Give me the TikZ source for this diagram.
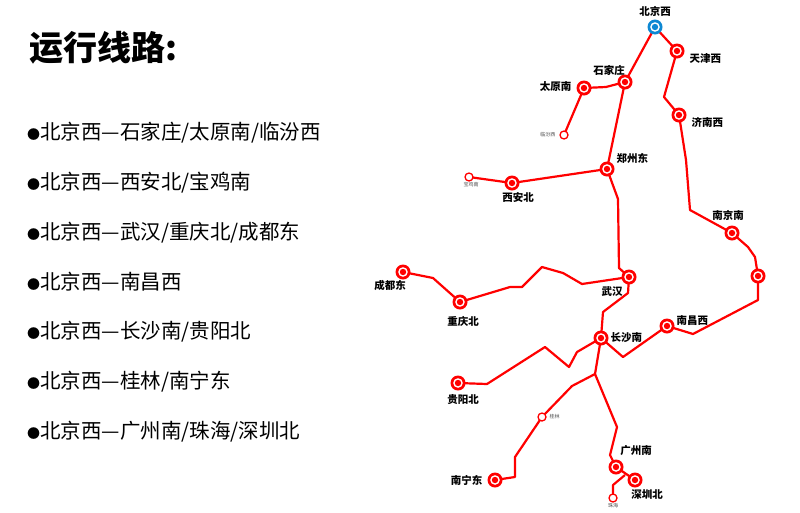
\documentclass[tikz,border=0pt]{standalone}
\usepackage{fontspec}
\setmainfont{Noto Sans CJK SC}
\begin{document}
\begin{tikzpicture}[x=1pt,y=-1pt,
  st/.style={circle,fill=red,minimum size=15pt,inner sep=0pt,path picture={\fill[white](path picture bounding box.center) circle (4.8pt);\fill[red](path picture bounding box.center) circle (3.2pt);}},
  bst/.style={st,fill=cyan!70!blue,path picture={\fill[white](path picture bounding box.center) circle (4.8pt);\fill[cyan!70!blue](path picture bounding box.center) circle (3.2pt);}},
  ost/.style={circle,draw=red,line width=1.3pt,fill=white,minimum size=8pt,inner sep=0pt},
  lb/.style={font=\bfseries\fontsize{10.5}{10.5}\selectfont},
  sl/.style={font=\fontsize{5}{5}\selectfont,text=black!70},
  ln/.style={red,line width=2.2pt,line join=round},
  it/.style={anchor=west,inner sep=0pt,font=\fontsize{20.5}{20.5}\selectfont}]
\useasboundingbox (0,0) rectangle (800,512);
\node[anchor=west,font=\bfseries\fontsize{34}{34}\selectfont] (title) at (26,48) {运行线路:};
\newcommand\bul{{\fontsize{13}{13}\selectfont●}}
\node[it] (item1) at (27,133) {\bul 北京西—石家庄/太原南/临汾西};
\node[it] (item2) at (27,183) {\bul 北京西—西安北/宝鸡南};
\node[it] (item3) at (27,233) {\bul 北京西—武汉/重庆北/成都东};
\node[it] (item4) at (27,282) {\bul 北京西—南昌西};
\node[it] (item5) at (27,332) {\bul 北京西—长沙南/贵阳北};
\node[it] (item6) at (27,382) {\bul 北京西—桂林/南宁东};
\node[it] (item7) at (27,432) {\bul 北京西—广州南/珠海/深圳北};
% lines
\coordinate (a1) at (606,87);
\coordinate (b1) at (618,199); \coordinate (b2) at (619,268);
\coordinate (c1) at (664,97);
\coordinate (d1) at (686,160); \coordinate (d2) at (690,210);
\coordinate (e1) at (748,247); \coordinate (e2) at (755,257);
\coordinate (f1) at (758,300); \coordinate (f2) at (693,334);
\coordinate (g1) at (623,357);
\coordinate (h1) at (628,293); \coordinate (h2) at (603,312);
\coordinate (i1) at (433,278);
\coordinate (j1) at (510,287); \coordinate (j2) at (522,287); \coordinate (j3) at (542,267); \coordinate (j4) at (563,273); \coordinate (j5) at (582,284);
\coordinate (k1) at (577,352); \coordinate (k2) at (569,367); \coordinate (k3) at (545,347); \coordinate (k4) at (487,384);
\coordinate (m0) at (595,374); \coordinate (m1) at (572,386);
\coordinate (n1) at (515,457); \coordinate (n2) at (515,477);
\coordinate (p1) at (617,427); \coordinate (p2) at (610,455);
\coordinate (q0) at (625,475); \coordinate (q1) at (613,485);

\path (655,27) coordinate (Pbj) (677,51) coordinate (Ptj) (625,82) coordinate (Psjz) (584,88) coordinate (Pty)
 (564,135) coordinate (Plf) (607,169) coordinate (Pzz) (469,177) coordinate (Pbj2) (512,183) coordinate (Pxa)
 (629,277) coordinate (Pwh) (679,115) coordinate (Pjn) (732,233) coordinate (Pnj) (758,276) coordinate (Pxx)
 (667,326) coordinate (Pnc) (601,338) coordinate (Pcs) (403,272) coordinate (Pcd) (460,302) coordinate (Pcq)
 (458,383) coordinate (Pgy) (542,417) coordinate (Pgl) (495,480) coordinate (Pnn) (616,467) coordinate (Pgz)
 (635,480) coordinate (Psz) (613,498) coordinate (Pzh);

\draw[ln] (Pbj) -- (Psjz) -- (Pzz) -- (b1) -- (b2) -- (Pwh) -- (h1) -- (h2) -- (Pcs) -- (m0) -- (p1) -- (p2) -- (Pgz) -- (Psz);
\draw[ln] (Psjz) -- (a1) -- (Pty) -- (Plf);
\draw[ln] (Pzz) -- (Pxa) -- (Pbj2);
\draw[ln] (Pbj) -- (Ptj) -- (c1) -- (Pjn) -- (d1) -- (d2) -- (Pnj) -- (e1) -- (e2) -- (Pxx) -- (f1) -- (f2) -- (Pnc) -- (g1) -- (Pcs);
\draw[ln] (Pwh) -- (j5) -- (j4) -- (j3) -- (j2) -- (j1) -- (Pcq) -- (i1) -- (Pcd);
\draw[ln] (Pcs) -- (k1) -- (k2) -- (k3) -- (k4) -- (Pgy);
\draw[ln] (m0) -- (m1) -- (Pgl) -- (n1) -- (n2) -- (Pnn);
\draw[ln] (q0) -- (q1) -- (Pzh);

\node[bst] (bj) at (Pbj) {};
\foreach \n in {tj,sjz,ty,zz,xa,wh,jn,nj,xx,nc,cs,cd,cq,gy,nn,gz,sz} \node[st] (\n) at (P\n) {};
\foreach \n in {lf,bj2,gl,zh} \node[ost] (\n) at (P\n) {};

\node[lb] (lbj) at (655,11) {北京西};
\node[lb,anchor=west] (ltj) at (686,58) {天津西};
\node[lb] (lsjz) at (609,70) {石家庄};
\node[lb,anchor=east] (lty) at (575,87) {太原南};
\node[sl,anchor=east] (llf) at (559,135) {临汾西};
\node[lb,anchor=west] (lzz) at (613,158) {郑州东};
\node[sl] (lbj2) at (471,185) {宝鸡南};
\node[lb] (lxa) at (518,198) {西安北};
\node[lb,anchor=west] (ljn) at (688,122) {济南西};
\node[lb] (lnj) at (728,215) {南京南};
\node[lb,anchor=west] (lnc) at (673,321) {南昌西};
\node[lb,anchor=west] (lcs) at (607,338) {长沙南};
\node[lb] (lwh) at (612,292) {武汉};
\node[lb] (lcd) at (390,285) {成都东};
\node[lb] (lcq) at (463,321) {重庆北};
\node[lb] (lgy) at (463,400) {贵阳北};
\node[sl,anchor=west] (lgl) at (546,417) {桂林};
\node[lb,anchor=east] (lnn) at (486,480) {南宁东};
\node[lb] (lgz) at (636,451) {广州南};
\node[lb] (lsz) at (647,495) {深圳北};
\node[sl] (lzh) at (613,506) {珠海};
\end{tikzpicture}
\end{document}
